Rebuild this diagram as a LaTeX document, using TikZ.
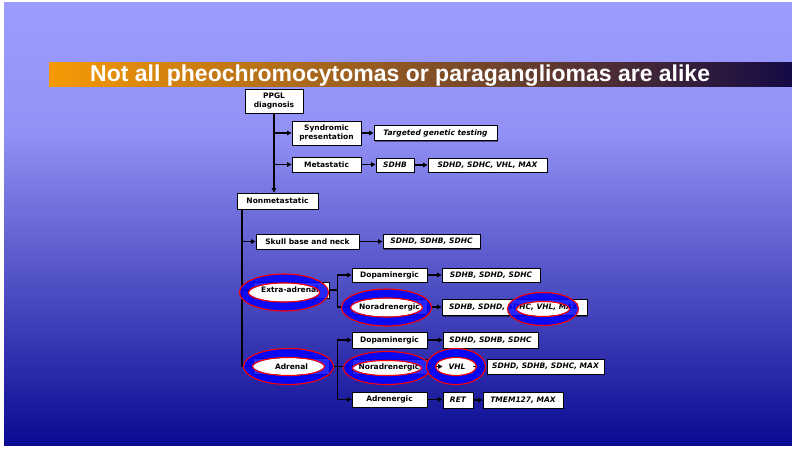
\documentclass[tikz,border=0pt]{standalone}
\usepackage{fontspec}
\setmainfont{DejaVu Sans}
\newfontfamily\titlefont{Liberation Sans}
\usetikzlibrary{arrows.meta,shadows}
\definecolor{bgtop}{HTML}{9C9CFF}
\definecolor{bgup}{HTML}{9292F6}
\definecolor{bgmid}{HTML}{5252BA}
\definecolor{bgbot}{HTML}{0A0A92}
\definecolor{barl}{HTML}{F89A05}
\definecolor{barm}{HTML}{BF7326}
\definecolor{barr}{HTML}{150A45}
\begin{document}
\begin{tikzpicture}[x=1pt,y=-1pt,
  box/.style={draw=black, line width=0.9pt, fill=white, inner sep=0pt, align=center,
    font=\fontsize{7.5}{8.6}\selectfont\bfseries,
    drop shadow={shadow xshift=1.2pt, shadow yshift=-1.2pt, opacity=0.45, fill=black}},
  gene/.style={box, font=\fontsize{7.5}{8.6}\selectfont\bfseries\itshape},
  lbl/.style={inner sep=0pt, font=\fontsize{7.5}{8.6}\selectfont\bfseries},
  conn/.style={line width=1.6pt, -{Triangle[length=4.5pt,width=4.5pt]}},
  lnk/.style={line width=1.6pt},
  ringedge/.style={draw=red, line width=1.1pt},
  ringblue/.style={draw=blue, line width=9pt, draw opacity=0.85},
]
\useasboundingbox (0,0) rectangle (792,448);
\fill[white] (0,0) rectangle (792,448);
\shade[top color=bgtop, bottom color=bgup] (4,2) rectangle (792,130.5);
\shade[top color=bgup, middle color=bgmid, bottom color=bgbot] (4,130) rectangle (792,445);
% title bar
\shade[left color=barl, middle color=barm, right color=barr] (49,62.3) rectangle (792,86.7);
\node[anchor=base west, inner sep=0pt, text=white, font=\titlefont\bfseries\fontsize{23}{26}\selectfont] (title) at (90,81) {Not all pheochromocytomas or paragangliomas are alike};

% boxes
\node[box, minimum width=58pt, minimum height=24pt] (ppgl) at (274,101) {PPGL\\diagnosis};
\node[box, minimum width=69pt, minimum height=24pt] (synd) at (326.5,133) {Syndromic\\presentation};
\node[gene, minimum width=123pt, minimum height=15pt] (tgt) at (435.5,133) {Targeted genetic testing};
\node[box, minimum width=69pt, minimum height=15pt] (meta) at (326.5,164.5) {Metastatic};
\node[gene, minimum width=38pt, minimum height=14pt] (sdhb) at (395,165) {SDHB};
\node[gene, minimum width=119pt, minimum height=14pt] (metg) at (487.5,165) {SDHD, SDHC, VHL, MAX};
\node[box, minimum width=81pt, minimum height=16pt] (nonmet) at (277.5,201) {Nonmetastatic};
\node[box, minimum width=103pt, minimum height=15pt] (skull) at (307.5,241.5) {Skull base and neck};
\node[gene, minimum width=97pt, minimum height=14pt] (skullg) at (431.5,241.5) {SDHD, SDHB, SDHC};
\node[box, minimum width=76pt, minimum height=16pt] (extra) at (291,290) {};
\node[box, minimum width=75pt, minimum height=14pt] (da1) at (389.5,275) {Dopaminergic};
\node[gene, minimum width=98pt, minimum height=14pt] (da1g) at (491,275) {SDHB, SDHD, SDHC};
\node[box, minimum width=75pt, minimum height=15pt] (na1) at (389.5,307) {};
\node[gene, minimum width=145pt, minimum height=16pt] (na1g) at (514.5,307.5) {};
\node[box, minimum width=76pt, minimum height=16pt] (adrenal) at (291,366.5) {};
\node[box, minimum width=75pt, minimum height=16pt] (da2) at (389.5,340) {Dopaminergic};
\node[gene, minimum width=95pt, minimum height=16pt] (da2g) at (490.5,340) {SDHD, SDHB, SDHC};
\node[box, minimum width=75pt, minimum height=15pt] (na2) at (389.5,366.5) {};
\node[gene, minimum width=30pt, minimum height=15pt] (vhl) at (458,366.5) {};
\node[gene, minimum width=117pt, minimum height=15pt] (na2g) at (545.5,366.5) {SDHD, SDHB, SDHC, MAX};
\node[box, minimum width=75pt, minimum height=15pt] (adr) at (389.5,399.5) {Adrenergic};
\node[gene, minimum width=30pt, minimum height=16pt] (ret) at (458,400) {RET};
\node[gene, minimum width=80pt, minimum height=16pt] (tm) at (523,400) {TMEM127, MAX};

% trunk connectors (partly hidden by the rings)
\draw[conn] (ppgl.south) -- (ppgl.south |- nonmet.north);
\draw[conn] (ppgl.south |- synd.west) -- (synd.west);
\draw[conn] (ppgl.south |- meta.west) -- (meta.west);
\coordinate (nt) at (242,209);
\draw[conn] (nt) -- (nt |- adrenal.west) -- (adrenal.west);
\draw[conn] (nt |- skull.west) -- (skull.west);
\draw[conn] (nt |- extra.west) -- (extra.west);

% white interiors of the rings
\fill[white] (284,292.5) ellipse [x radius=35pt, y radius=9pt];
\fill[white] (386.5,307.5) ellipse [x radius=35.5pt, y radius=9pt];
\fill[white] (543,309) ellipse [x radius=26pt, y radius=7pt];
\fill[white] (288.5,366.5) ellipse [x radius=35.5pt, y radius=8.5pt];
\fill[white] (387,368) ellipse [x radius=34.5pt, y radius=7.5pt];
\fill[white] (456,366.5) ellipse [x radius=20pt, y radius=9pt];

% texts of ringed boxes
\node[lbl] (extraT) at (290,290) {Extra-adrenal};
\node[lbl] (na1T) at (389.5,307.5) {Noradrenergic};
\node[lbl, font=\fontsize{7.5}{8.6}\selectfont\bfseries\itshape] (na1gT) at (513.5,307.5) {SDHB, SDHD, SDHC, VHL, MAX};
\node[lbl] (adrenalT) at (291.5,366.5) {Adrenal};
\node[lbl] (na2T) at (389,367) {Noradrenergic};
\node[lbl, font=\fontsize{7.5}{8.6}\selectfont\bfseries\itshape] (vhlT) at (457,366.5) {VHL};

% other connectors
\draw[conn] (synd.east) -- (synd.east -| tgt.west);
\draw[conn] (meta.east) -- (meta.east -| sdhb.west);
\draw[conn] (sdhb.east) -- (sdhb.east -| metg.west);
\draw[conn] (skull.east) -- (skull.east -| skullg.west);
\draw[lnk] (extra.east) -- ++(8,0) coordinate (eb);
\draw[conn] (eb) |- (da1.west);
\draw[conn] (eb) |- (na1.west);
\draw[conn] (da1.east) -- (da1.east -| da1g.west);
\draw[conn] (na1.east) -- (na1.east -| na1g.west);
\draw[lnk] (adrenal.east) -- ++(8,0) coordinate (ab);
\draw[conn] (ab) |- (da2.west);
\draw[conn] (ab) |- (na2.west);
\draw[conn] (ab) |- (adr.west);
\draw[conn] (da2.east) -- (da2.east -| da2g.west);
\draw[conn] (na2.east) -- (na2.east -| vhl.west);
\draw[conn] (vhl.east) -- (vhl.east -| na2g.west);
\draw[conn] (adr.east) -- (adr.east -| ret.west);
\draw[conn] (ret.east) -- (ret.east -| tm.west);

% rings: translucent blue band with red edges
\foreach \c/\rx/\ry in {{(284,292.5)}/40/14, {(386.5,307.5)}/40.5/14, {(543,309)}/31/12,
                        {(288.5,366.5)}/40.5/13.5, {(387,368)}/39/12, {(456,366.5)}/25/13.5} {
  \draw[ringblue] \c ellipse [x radius=\rx pt, y radius=\ry pt];
  \draw[ringedge] \c ellipse [x radius=\rx pt+4.5pt, y radius=\ry pt+4.5pt];
  \draw[ringedge] \c ellipse [x radius=\rx pt-4.5pt, y radius=\ry pt-4.5pt];
}
\end{tikzpicture}
\end{document}
